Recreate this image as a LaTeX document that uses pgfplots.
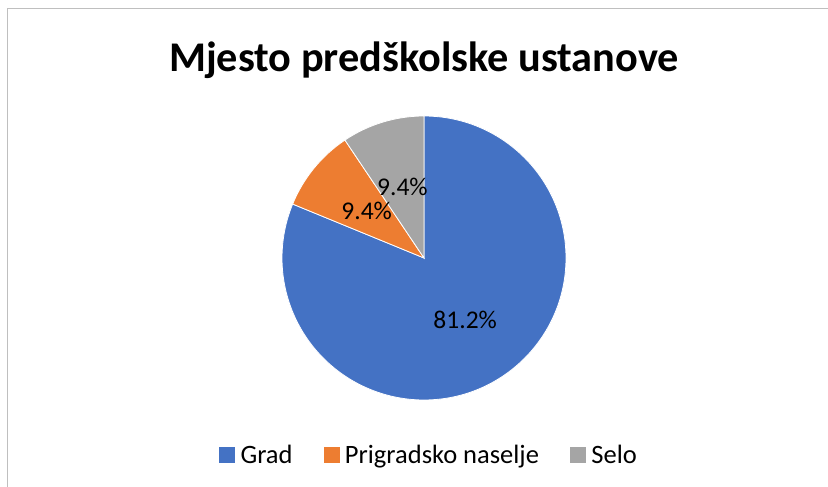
\documentclass[border=0pt]{standalone}
\usepackage{pgfplots}
\pgfplotsset{compat=1.18}
\usepackage{pgfplotstable}
\usepackage{fontspec}
\setmainfont{Carlito}
\definecolor{grad}{HTML}{4472C4}
\definecolor{prig}{HTML}{ED7D31}
\definecolor{selo}{HTML}{A5A5A5}
\definecolor{frame}{HTML}{BFBFBF}

\pgfplotstableread{
name value color
Grad 81.2 grad
Prigradsko 9.4 prig
Selo 9.4 selo
}\piedata

\begin{document}
\begin{tikzpicture}
\begin{axis}[
  scale only axis, width=828pt, height=487pt,
  xmin=0, xmax=828, ymin=0, ymax=487,
  hide axis, clip=false,
  legend columns=3,
  legend style={at={(axis cs:429,32)}, anchor=center, draw=none, fill=none,
    font=\fontsize{26.5}{30}\selectfont,
    /tikz/every even column/.append style={column sep=29pt},
    /tikz/every odd column/.append style={column sep=4pt}},
  legend image code/.code={\fill[#1] (0pt,-7.5pt) rectangle (15pt,7.5pt);},
]
% frame
\draw[frame, line width=1pt] (axis cs:7,478) rectangle (axis cs:840,-10);
% title
\node[anchor=base, font=\fontsize{42.3}{50}\selectfont\bfseries] at (axis cs:424,415) {Mjesto predškolske ustanove};
% slices
\pgfplotstablegetrowsof{\piedata}
\pgfmathtruncatemacro\N{\pgfplotsretval-1}
\def\curang{90}
\pgfplotsforeachungrouped \i in {0,...,\N}{%
  \pgfplotstablegetelem{\i}{value}\of\piedata \let\v\pgfplotsretval
  \pgfplotstablegetelem{\i}{color}\of\piedata \let\c\pgfplotsretval
  \pgfmathsetmacro\endang{\curang-3.6*\v}%
  \edef\temp{\noexpand\fill[\c, draw=white, line width=0.8pt] (axis cs:424,229) -- ++(\curang:142pt) arc[start angle=\curang, end angle=\endang, radius=142pt] -- cycle;}%
  \temp
  \global\let\curang\endang
}
\def\curang{90}
\pgfplotsforeachungrouped \i in {0,...,\N}{%
  \pgfplotstablegetelem{\i}{value}\of\piedata \let\v\pgfplotsretval
  \pgfmathsetmacro\endang{\curang-3.6*\v}%
  \pgfmathsetmacro\midang{(\curang+\endang)/2}%
  \edef\temp{\noexpand\path (axis cs:424,229) ++(\midang:74pt) node[font=\noexpand\fontsize{25.5}{30}\noexpand\selectfont, inner sep=0pt] {\v\noexpand\%};}%
  \temp
  \global\let\curang\endang
}
\addlegendimage{grad}\addlegendentry{Grad}
\addlegendimage{prig}\addlegendentry{Prigradsko naselje}
\addlegendimage{selo}\addlegendentry{Selo}
\end{axis}
\pgfresetboundingbox
\path[use as bounding box] (current axis.south west) rectangle (current axis.north east);
\end{tikzpicture}
\end{document}
